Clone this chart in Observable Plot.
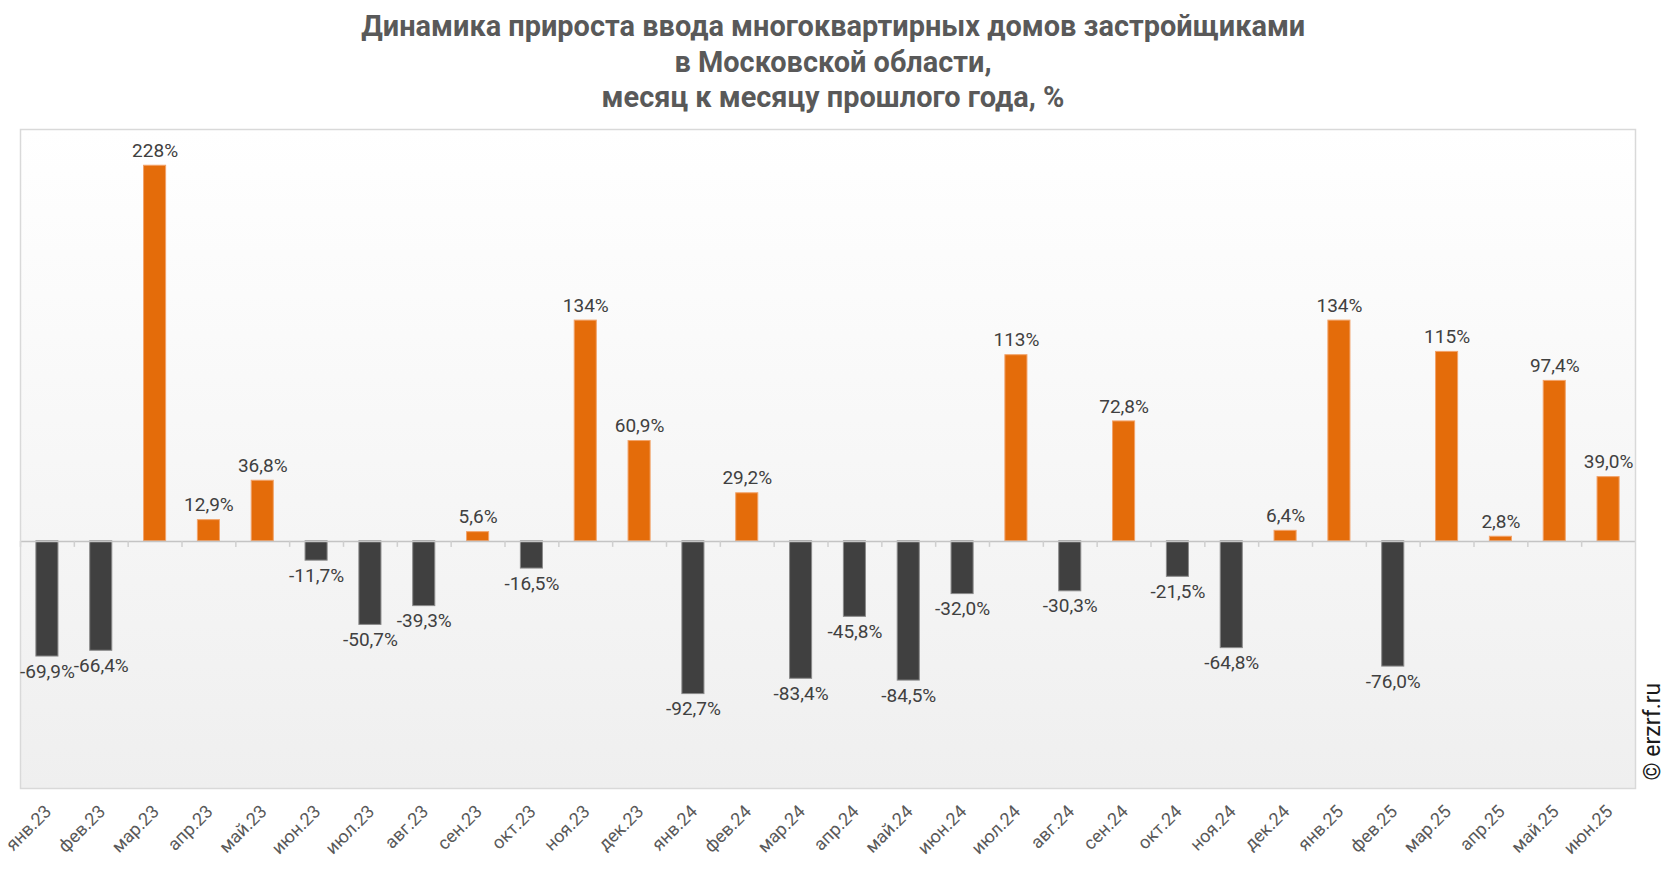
<!DOCTYPE html>
<html>
<head>
<meta charset="utf-8">
<script src="https://cdn.jsdelivr.net/npm/d3@7"></script>
<script src="https://cdn.jsdelivr.net/npm/@observablehq/plot@0.6"></script>
<style>
  html, body { margin: 0; padding: 0; background: #ffffff; }
  body { width: 1666px; height: 872px; overflow: hidden; font-family: Roboto, "Noto Sans", sans-serif; }
  #title { height: 118px; box-sizing: border-box; padding-top: 9px; text-align: center; color: #595959;
           font-weight: 700; font-size: 29px; line-height: 35.5px; }
  #title span { display: inline-block; white-space: nowrap; transform-origin: 50% 50%; }
</style>
</head>
<body>
<div id="title">
  <span>Динамика прироста ввода многоквартирных домов застройщиками</span><br>
  <span>в Московской области,</span><br>
  <span>месяц к месяцу прошлого года, %</span>
</div>
<div id="chart"></div>
<script>
const months = ["янв.23","фев.23","мар.23","апр.23","май.23","июн.23","июл.23","авг.23","сен.23","окт.23","ноя.23","дек.23",
                "янв.24","фев.24","мар.24","апр.24","май.24","июн.24","июл.24","авг.24","сен.24","окт.24","ноя.24","дек.24",
                "янв.25","фев.25","мар.25","апр.25","май.25","июн.25"];
const values = [-69.9,-66.4,228,12.9,36.8,-11.7,-50.7,-39.3,5.6,-16.5,134,60.9,
                -92.7,29.2,-83.4,-45.8,-84.5,-32.0,113,-30.3,72.8,-21.5,-64.8,6.4,
                134,-76.0,115,2.8,97.4,39.0];
const yDomain = [-150, 250];
const watermark = "© erzrf.ru";

const data = months.map((m, i) => ({month: m, value: values[i]}));
const fmt = v => (Math.abs(v) >= 100 ? String(Math.round(v)) : v.toFixed(1).replace(".", ",")) + "%";

const W = 1666, H = 754, mL = 20, mR = 31, mT = 11, mB = 84;
const step = (W - mL - mR) / months.length;
const pad = 0.59;

const defs = () => {
  const d = d3.create("svg:defs");
  const g = d.append("linearGradient").attr("id", "bg").attr("x1", 0).attr("y1", 0).attr("x2", 0).attr("y2", 1);
  g.append("stop").attr("offset", "0%").attr("stop-color", "#ffffff");
  g.append("stop").attr("offset", "100%").attr("stop-color", "#efefef");
  return d.node();
};

const chart = Plot.plot({
  width: W, height: H,
  marginLeft: mL, marginRight: mR, marginTop: mT, marginBottom: mB,
  style: {fontFamily: "Roboto, sans-serif", background: "transparent", overflow: "visible"},
  x: {type: "band", domain: months, paddingInner: pad, paddingOuter: pad / 2, round: false, axis: null},
  y: {domain: yDomain, axis: null},
  marks: [
    defs,
    Plot.frame({fill: "url(#bg)", stroke: "none"}),
    Plot.barY(data.filter(d => d.value >= 0), {x: "month", y: "value", fill: "#E46C0A", stroke: "#F2A36A", strokeWidth: 1}),
    Plot.barY(data.filter(d => d.value < 0), {x: "month", y: "value", fill: "#404040", stroke: "#8a8a8a", strokeWidth: 1}),
    Plot.ruleY([0], {stroke: "#c4c4c4", strokeWidth: 1.5}),
    Plot.ruleX(months, {x: d => d, y1: 0, y2: 0, dx: -step / 2, insetBottom: -6, stroke: "#cfcfcf", strokeWidth: 1.5}),
    Plot.frame({stroke: "#d9d9d9", strokeWidth: 1.5}),
    Plot.text(data.filter(d => d.value >= 0), {x: "month", y: "value", text: d => fmt(d.value), dy: -15,
      fill: "#404040", fontSize: 19}),
    Plot.text(data.filter(d => d.value < 0), {x: "month", y: "value", text: d => fmt(d.value), dy: 15,
      fill: "#404040", fontSize: 19}),
    Plot.text(months, {x: d => d, text: d => d, frameAnchor: "bottom", rotate: -45, textAnchor: "end",
      lineAnchor: "middle", dx: 1, dy: 20, fill: "#595959", fontSize: 18}),
    Plot.text([watermark], {frameAnchor: "bottom-right", text: d => d, rotate: -90, textAnchor: "start",
      lineAnchor: "middle", dx: 17, dy: -8, fill: "#1a1a1a", fontSize: 23})
  ]
});
document.getElementById("chart").appendChild(chart);

// fit title's first line width to the reference's narrow title face
function fitTitle() {
  const spans = document.querySelectorAll("#title span");
  const w = spans[0].getBoundingClientRect().width;
  const s = 944 / w;
  spans.forEach(sp => sp.style.transform = `scaleX(${s})`);
}
if (document.fonts && document.fonts.ready) document.fonts.ready.then(fitTitle); else fitTitle();
</script>
</body>
</html>
